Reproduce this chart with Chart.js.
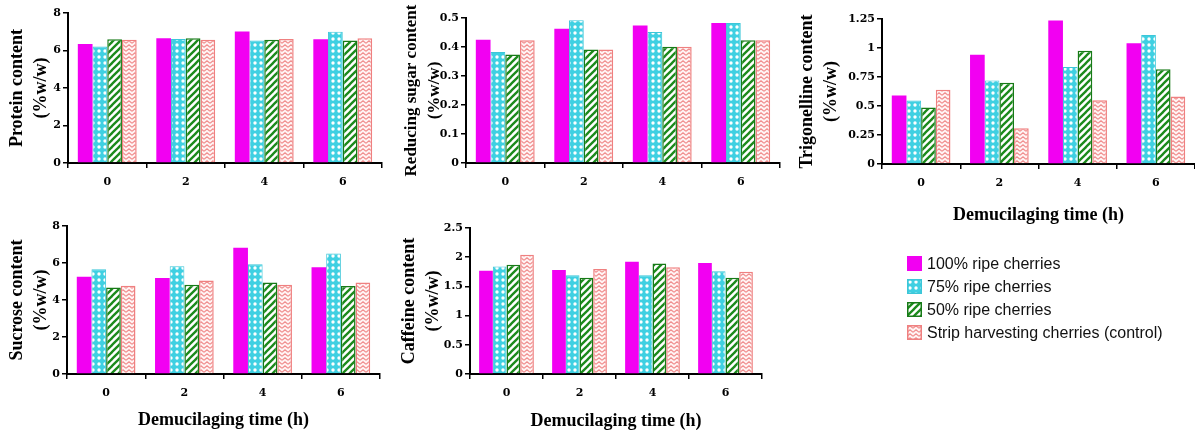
<!DOCTYPE html>
<html>
<head>
<meta charset="utf-8">
<script src="https://cdn.jsdelivr.net/npm/chart.js@4/dist/chart.umd.min.js"></script>
<style>
	body { margin: 0; background: #fff; }
	#wrap { position: relative; width: 1195px; height: 434px; overflow: hidden; }
	#wrap > canvas { position: absolute; }
	.legend { position: absolute; left: 907px; top: 252px; font: 16px 'Liberation Sans', Arial, sans-serif; color: #111; }
	.legend div { height: 23px; display: flex; align-items: center; white-space: nowrap; }
	.legend canvas { margin-right: 5px; }
</style>
</head>
<body>
<div id="wrap">
	<canvas id="c_protein" width="395" height="200" style="left:0;top:0"></canvas>
	<canvas id="c_sugar" width="400" height="200" style="left:392px;top:0"></canvas>
	<canvas id="c_trig" width="403" height="230" style="left:792px;top:0"></canvas>
	<canvas id="c_sucrose" width="395" height="229" style="left:0;top:205px"></canvas>
	<canvas id="c_caffeine" width="400" height="229" style="left:392px;top:205px"></canvas>
	<div class="legend" id="legend"></div>
</div>
<script>
// Demucilaging time (h)
const hours = ['0', '2', '4', '6'];
const seriesNames = ['100% ripe cherries', '75% ripe cherries', '50% ripe cherries', 'Strip harvesting cherries (control)'];

// values per series, in the order of seriesNames
const protein = [
	[6.35, 6.65, 7.02, 6.60],
	[6.22, 6.62, 6.53, 7.00],
	[6.60, 6.65, 6.57, 6.53],
	[6.58, 6.57, 6.62, 6.66]
];
const reducingSugar = [
	[0.425, 0.463, 0.474, 0.483],
	[0.383, 0.492, 0.452, 0.483],
	[0.374, 0.391, 0.401, 0.423],
	[0.423, 0.391, 0.401, 0.423]
];
const trigonelline = [
	[0.59, 0.942, 1.236, 1.04],
	[0.548, 0.72, 0.836, 1.112],
	[0.487, 0.70, 0.977, 0.816],
	[0.64, 0.308, 0.55, 0.582]
];
const sucrose = [
	[5.26, 5.19, 6.83, 5.77],
	[5.66, 5.82, 5.93, 6.52],
	[4.67, 4.83, 4.94, 4.76],
	[4.77, 5.05, 4.83, 4.94]
];
const caffeine = [
	[1.77, 1.78, 1.92, 1.90],
	[1.84, 1.69, 1.69, 1.76],
	[1.87, 1.65, 1.89, 1.65],
	[2.04, 1.80, 1.83, 1.75]
];

// y tick labels
const ticksEight = ['0', '2', '4', '6', '8'];
const ticksSugar = ['0', '0.1', '0.2', '0.3', '0.4', '0.5'];
const ticksTrig = ['0', '0.25', '0.5', '0.75', '1', '1.25'];
const ticksCaffeine = ['0', '0.5', '1', '1.5', '2', '2.5'];

const xTitle = 'Demucilaging time (h)';

// hatch fills, drawn once on a small tile
function makePattern(kind) {
	const c = document.createElement('canvas'),
		x = c.getContext('2d');
	if (kind === 'dots') {
		c.width = 6; c.height = 6;
		x.fillStyle = '#3fd0e2';
		x.fillRect(0, 0, 6, 6);
		x.fillStyle = '#ffffff';
		x.beginPath(); x.arc(3, 3, 1.7, 0, Math.PI * 2); x.fill();
	} else if (kind === 'stripes') {
		c.width = 7; c.height = 7;
		x.fillStyle = '#ffffff';
		x.fillRect(0, 0, 7, 7);
		x.strokeStyle = '#1b8a1b';
		x.lineWidth = 2.3;
		[[-7, 7, 7, -7], [0, 7, 7, 0], [0, 14, 14, 0]].map((l) => {
			x.beginPath(); x.moveTo(l[0], l[1]); x.lineTo(l[2], l[3]); x.stroke();
		});
	} else {
		c.width = 6; c.height = 4;
		x.fillStyle = '#fff4f4';
		x.fillRect(0, 0, 6, 4);
		x.strokeStyle = '#f08f8f';
		x.lineWidth = 1.2;
		x.beginPath(); x.moveTo(0, 3.2); x.lineTo(3, 0.8); x.lineTo(6, 3.2); x.stroke();
	}
	return x.createPattern(c, 'repeat');
}
const fills = ['#f200f2', makePattern('dots'), makePattern('stripes'), makePattern('zigzag')],
	borders = ['#f200f2', '#3cc6d8', '#177a17', '#ef8080'],
	borderWidths = [0, 1, 1.5, 1.5];

const tickFont = { family: 'DejaVu Serif', size: 11, weight: 'bold' };
function titleFont(size) {
	return { family: 'Liberation Serif', size: size, weight: 'bold', lineHeight: 23.4 / size };
}

function buildChart(id, values, o) {
	new Chart(document.getElementById(id), {
		type: 'bar',
		data: {
			labels: hours,
			datasets: values.map((row, i) => ({
				label: seriesNames[i],
				data: row,
				backgroundColor: fills[i],
				borderColor: borders[i],
				borderWidth: borderWidths[i]
			}))
		},
		options: {
			responsive: false,
			animation: false,
			devicePixelRatio: 1,
			layout: { padding: { left: 0, top: o.top, right: o.right, bottom: 0 } },
			datasets: { bar: { categoryPercentage: 0.75, barPercentage: 1 } },
			plugins: { legend: { display: false }, tooltip: { enabled: false } },
			scales: {
				x: {
					grid: { drawOnChartArea: false, tickLength: 5, color: '#000', lineWidth: 1.5 },
					border: { color: '#000', width: 2 },
					ticks: { font: tickFont, color: '#000', padding: 8 },
					title: {
						display: !!o.xTitle,
						text: o.xTitle || '',
						font: titleFont(18),
						color: '#000',
						padding: { top: 0, bottom: o.xPad || 0 }
					},
					afterFit: (s) => { s.height = o.xh; }
				},
				y: {
					min: 0,
					max: o.max,
					ticks: {
						stepSize: o.step,
						font: tickFont,
						color: '#000',
						padding: 2,
						callback: (v, i) => o.labels[i]
					},
					grid: { drawOnChartArea: false, tickLength: 5, color: '#000', lineWidth: 1.5 },
					border: { color: '#000', width: 2 },
					title: {
						display: true,
						text: o.yTitle,
						font: titleFont(o.ySize || 18),
						color: '#000',
						padding: { top: o.yPad, bottom: 0 }
					},
					afterFit: (s) => { s.width = o.yw; }
				}
			}
		}
	});
}

buildChart('c_protein', protein, { top: 13, right: 13, xh: 37, yw: 68, yPad: 6, max: 8, step: 2, labels: ticksEight, yTitle: ['Protein content', '(%w/w)'] });
buildChart('c_sugar', reducingSugar, { top: 18, right: 12, xh: 37, yw: 74, yPad: 8, ySize: 17, max: 0.5, step: 0.1, labels: ticksSugar, yTitle: ['Reducing sugar content', '(%w/w)'] });
buildChart('c_trig', trigonelline, { top: 19, right: 0, xh: 66, yw: 90, yPad: 4, max: 1.25, step: 0.25, labels: ticksTrig, yTitle: ['Trigonelline content', '(%w/w)'], xTitle: xTitle, xPad: 3 });
buildChart('c_sucrose', sucrose, { top: 21, right: 15, xh: 60, yw: 67, yPad: 6, max: 8, step: 2, labels: ticksEight, yTitle: ['Sucrose content', '(%w/w)'], xTitle: xTitle, xPad: 2 });
buildChart('c_caffeine', caffeine, { top: 23, right: 30, xh: 60, yw: 78, yPad: 6, max: 2.5, step: 0.5, labels: ticksCaffeine, yTitle: ['Caffeine content', '(%w/w)'], xTitle: xTitle, xPad: 1 });

// legend with the same fills
const legend = document.getElementById('legend');
seriesNames.map((name, i) => {
	const row = document.createElement('div'),
		sw = document.createElement('canvas');
	sw.width = 15; sw.height = 15;
	const ctx = sw.getContext('2d');
	ctx.fillStyle = fills[i];
	ctx.fillRect(0, 0, 15, 15);
	if (borderWidths[i] > 0) {
		ctx.strokeStyle = borders[i];
		ctx.lineWidth = 1.5;
		ctx.strokeRect(0.75, 0.75, 13.5, 13.5);
	}
	row.appendChild(sw);
	row.appendChild(document.createTextNode(name));
	legend.appendChild(row);
});
</script>
</body>
</html>
